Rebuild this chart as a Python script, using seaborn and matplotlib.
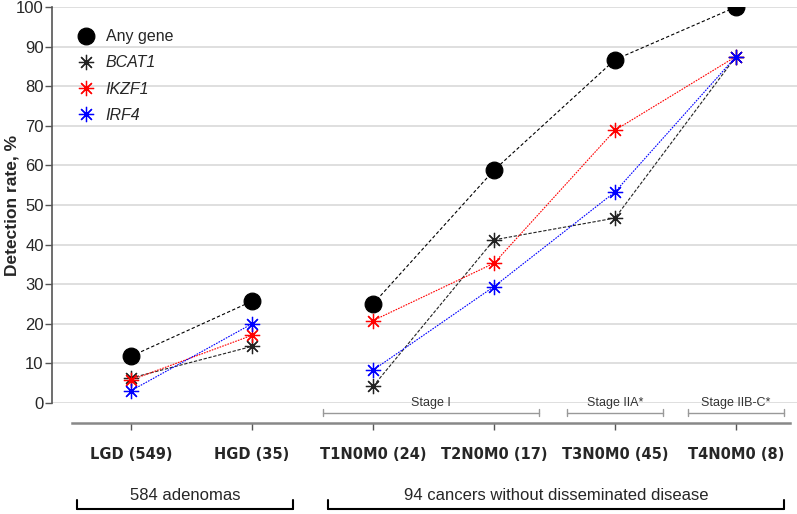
import numpy as np
import pandas as pd
import matplotlib
matplotlib.use("Agg")
import matplotlib.pyplot as plt
import seaborn as sns

# categories and detection rates (%)
categories = ["LGD (549)", "HGD (35)", "T1N0M0 (24)", "T2N0M0 (17)", "T3N0M0 (45)", "T4N0M0 (8)"]
any_gene = [11.8, 25.7, 25.0, 58.8, 86.7, 100.0]
bcat1 = [6.3, 14.3, 4.2, 41.2, 46.7, 87.5]
ikzf1 = [5.8, 17.1, 20.8, 35.3, 68.9, 87.5]
irf4 = [3.1, 20.0, 8.3, 29.4, 53.3, 87.5]
# adenomas = first two categories, cancers = the rest
segments = [(0, 2), (2, 6)]

stages = ["Stage I", "Stage IIA*", "Stage IIB-C*"]
stage_spans = [(1.59, 3.37), (3.6, 4.4), (4.6, 5.4)]
groups = ["584 adenomas", "94 cancers without disseminated disease"]
group_spans = [(-0.45, 1.34), (1.63, 5.4)]

sns.set_style("white")
plt.rcParams["font.family"] = ["Liberation Sans", "DejaVu Sans"]

fig = plt.figure(figsize=(7.97, 5.14), dpi=100)
ax = fig.add_axes([52 / 797, 1 - 403 / 514, 745 / 797, 396 / 514])

x = np.arange(len(categories))
series = [
    ("Any gene", any_gene, "black", "o", 12, (0, (3, 2))),
    ("BCAT1", bcat1, "#222222", (8, 2, 0), 11, (0, (3, 1.5))),
    ("IKZF1", ikzf1, "red", (8, 2, 0), 11, (0, (1.5, 1))),
    ("IRF4", irf4, "blue", (8, 2, 0), 11, (0, (1.5, 1))),
]
for name, vals, col, mk, ms, ls in series:
    for k, (a, b) in enumerate(segments):
        df = pd.DataFrame({"x": x[a:b], "y": vals[a:b]})
        sns.lineplot(data=df, x="x", y="y", ax=ax, color=col, marker=mk, markersize=ms,
                     markeredgecolor=col, markeredgewidth=0.9, linewidth=0.8,
                     linestyle=ls, label=name if k == 0 else None)

ax.set_ylim(0, 100)
ax.set_xlim(-0.653, 5.504)
ax.set_yticks(range(0, 101, 10))
ax.set_yticklabels([str(v) for v in range(0, 101, 10)], fontsize=12)
ax.yaxis.grid(True, color="#d9d9d9", linewidth=1.2)
ax.set_axisbelow(True)
ax.tick_params(axis="y", left=True, length=5, width=1, color="#555555", pad=1)
ax.set_ylabel("Detection rate, %", fontsize=12.5, fontweight="bold")
ax.yaxis.set_label_coords(-0.044, 0.5)
ax.set_xlabel("")

for s in ["top", "right"]:
    ax.spines[s].set_visible(False)
ax.spines["left"].set_color("#555555")
ax.spines["left"].set_linewidth(1.2)
ax.spines["bottom"].set_position(("outward", 14.5))
ax.spines["bottom"].set_bounds(-0.49, 5.45)
ax.spines["bottom"].set_color("#888888")
ax.spines["bottom"].set_linewidth(1.8)
ax.set_xticks(x)
ax.set_xticklabels(categories, fontsize=10.5, fontweight="heavy", family=["DejaVu Sans"])
ax.tick_params(axis="x", bottom=True, length=5, width=1, color="#555555", pad=12)

# stage brackets (gray)
for lab, (a, b) in zip(stages, stage_spans):
    ax.plot([a, b], [-2.5, -2.5], color="#999999", lw=1, clip_on=False)
    for e in (a, b):
        ax.plot([e, e], [-1.6, -3.4], color="#999999", lw=1, clip_on=False)
    ax.text((a + b) / 2, 0.0, lab, ha="center", va="center", fontsize=9, color="#333333")

# group brackets (black)
for lab, (a, b) in zip(groups, group_spans):
    ax.plot([a, b], [-26.7, -26.7], color="black", lw=1.5, clip_on=False)
    for e in (a, b):
        ax.plot([e, e], [-26.7, -24.5], color="black", lw=1.5, clip_on=False)
    ax.text((a + b) / 2, -23.4, lab, ha="center", va="center", fontsize=12)

leg = ax.legend(loc="upper left", bbox_to_anchor=(0.014, 0.98), frameon=False,
                fontsize=11.5, handlelength=1.2, labelspacing=0.7, handletextpad=0.6)
for h in leg.legend_handles:
    h.set_linestyle("none")
for t in leg.get_texts()[1:]:
    t.set_fontstyle("italic")

fig.savefig("out.png", dpi=100)
